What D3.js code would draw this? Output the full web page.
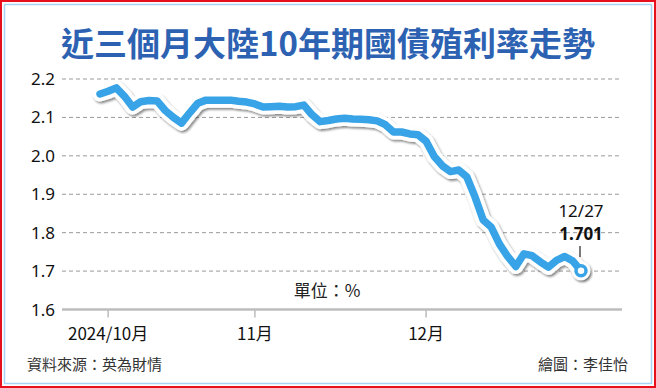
<!DOCTYPE html>
<html>
<head>
<meta charset="utf-8">
<script src="https://cdn.jsdelivr.net/npm/d3@7"></script>
<style>
  body { margin: 0; background: #fff; }
  svg text { font-family: "Noto Sans", "Noto Sans CJK TC", sans-serif; }
  .cjk { font-family: "Noto Sans CJK TC", "Noto Sans", sans-serif; }
</style>
</head>
<body>
<div id="chart"></div>
<script>
// trading days shown on the x axis
const dates = [
  "09/30",
  "10/08", "10/09", "10/10", "10/11", "10/14", "10/15", "10/16", "10/17", "10/18",
  "10/21", "10/22", "10/23", "10/24", "10/25", "10/28", "10/29", "10/30", "10/31",
  "11/01", "11/04", "11/05", "11/06", "11/07", "11/08", "11/11", "11/12", "11/13",
  "11/14", "11/15", "11/18", "11/19", "11/20", "11/21", "11/22", "11/25", "11/26",
  "11/27", "11/28", "11/29",
  "12/02", "12/03", "12/04", "12/05", "12/06", "12/09", "12/10", "12/11", "12/12",
  "12/13", "12/16", "12/17", "12/18", "12/19", "12/20", "12/23", "12/24", "12/25",
  "12/26", "12/27"
];

// 10-year yield, %
const yields = [
  2.161,
  2.168, 2.177, 2.155, 2.127, 2.141, 2.144, 2.143, 2.118, 2.100,
  2.085, 2.112, 2.137, 2.145, 2.145, 2.145, 2.145, 2.142, 2.140,
  2.135, 2.127, 2.128, 2.129, 2.127, 2.128, 2.132, 2.107, 2.089,
  2.092, 2.096, 2.098, 2.096, 2.095, 2.094, 2.091, 2.081, 2.062,
  2.062, 2.057, 2.055,
  2.038, 1.998, 1.974, 1.959, 1.963, 1.945, 1.893, 1.833, 1.814,
  1.770, 1.738, 1.712, 1.745, 1.740, 1.724, 1.710, 1.728, 1.738,
  1.726, 1.701
];

const yTicks = [1.6, 1.7, 1.8, 1.9, 2.0, 2.1, 2.2];
const monthTicks = ["10/08", "11/01", "12/02"];
const monthLabels = ["2024/10月", "11月", "12月"];

const title = "近三個月大陸10年期國債殖利率走勢";
const unitText = "單位：%";
const sourceText = "資料來源：英為財情";
const creditText = "繪圖：李佳怡";

const W = 656, H = 388;

const svg = d3.select("#chart").append("svg")
  .attr("width", W)
  .attr("height", H);

// drop shadow for the line halo
const defs = svg.append("defs");
const filter = defs.append("filter")
  .attr("id", "shadow")
  .attr("x", "-10%").attr("y", "-10%")
  .attr("width", "120%").attr("height", "130%");
filter.append("feDropShadow")
  .attr("dx", 1.5).attr("dy", 2)
  .attr("stdDeviation", 1.3)
  .attr("flood-color", "#000")
  .attr("flood-opacity", 0.45);

// frame: red outer, light blue inner
svg.append("rect")
  .attr("x", 1).attr("y", 1)
  .attr("width", W - 2).attr("height", H - 2)
  .attr("fill", "none")
  .attr("stroke", "#e8101c")
  .attr("stroke-width", 2);
svg.append("rect")
  .attr("x", 4.5).attr("y", 4.5)
  .attr("width", W - 9).attr("height", H - 9)
  .attr("fill", "none")
  .attr("stroke", "#a9d3f2")
  .attr("stroke-width", 1.5);

// title
svg.append("text")
  .attr("class", "cjk")
  .attr("x", W / 2)
  .attr("y", 56)
  .attr("text-anchor", "middle")
  .attr("font-size", 33)
  .attr("font-weight", "bold")
  .attr("fill", "#2d62b2")
  .text(title);

// scales
const x = d3.scalePoint()
  .domain(dates)
  .range([100, 581]);

const y = d3.scaleLinear()
  .domain([1.6, 2.2])
  .range([309.5, 79]);

const plotLeft = 62, plotRight = 622;

// dashed grid lines
svg.append("g")
  .selectAll("line")
  .data(yTicks.filter(d => d > 1.6))
  .join("line")
  .attr("x1", plotLeft).attr("x2", plotRight)
  .attr("y1", d => y(d)).attr("y2", d => y(d))
  .attr("stroke", "#9a9a9a")
  .attr("stroke-width", 1)
  .attr("stroke-dasharray", "4,3");

// y labels
svg.append("g")
  .selectAll("text")
  .data(yTicks)
  .join("text")
  .attr("x", 55)
  .attr("y", d => y(d) + 6)
  .attr("text-anchor", "end")
  .attr("font-size", 17)
  .attr("fill", "#111")
  .text(d => d.toFixed(1));

// baseline and month ticks
svg.append("line")
  .attr("x1", plotLeft).attr("x2", plotRight)
  .attr("y1", y(1.6)).attr("y2", y(1.6))
  .attr("stroke", "#bdbdbd")
  .attr("stroke-width", 2.5);

svg.append("g")
  .selectAll("line")
  .data(monthTicks)
  .join("line")
  .attr("x1", d => x(d)).attr("x2", d => x(d))
  .attr("y1", y(1.6)).attr("y2", y(1.6) + 8)
  .attr("stroke", "#bdbdbd")
  .attr("stroke-width", 1.5);

svg.append("g")
  .selectAll("text")
  .data(monthTicks)
  .join("text")
  .attr("class", "cjk")
  .attr("x", d => x(d))
  .attr("y", 340)
  .attr("text-anchor", "middle")
  .attr("font-size", 17)
  .attr("fill", "#111")
  .text((d, i) => monthLabels[i]);

// unit label
svg.append("text")
  .attr("class", "cjk")
  .attr("x", 327)
  .attr("y", 297)
  .attr("text-anchor", "middle")
  .attr("font-size", 17)
  .attr("fill", "#222")
  .text(unitText);

// the line: white halo with shadow, then blue stroke
const line = d3.line()
  .x((d, i) => x(dates[i]))
  .y(d => y(d));

const series = svg.append("g");
series.append("path")
  .datum(yields)
  .attr("d", line)
  .attr("fill", "none")
  .attr("stroke", "#fff")
  .attr("stroke-width", 15)
  .attr("stroke-linejoin", "round")
  .attr("stroke-linecap", "round")
  .attr("filter", "url(#shadow)");

const lastDate = dates[dates.length - 1];
const lastVal = yields[yields.length - 1];

series.append("circle")
  .attr("cx", x(lastDate)).attr("cy", y(lastVal))
  .attr("r", 9.5)
  .attr("fill", "#fff")
  .attr("filter", "url(#shadow)");

series.append("path")
  .datum(yields)
  .attr("d", line)
  .attr("fill", "none")
  .attr("stroke", "#38a3e6")
  .attr("stroke-width", 7.5)
  .attr("stroke-linejoin", "round")
  .attr("stroke-linecap", "round");

series.append("circle")
  .attr("cx", x(lastDate)).attr("cy", y(lastVal))
  .attr("r", 5)
  .attr("fill", "#fff")
  .attr("stroke", "#38a3e6")
  .attr("stroke-width", 3.5);

// end annotation
svg.append("line")
  .attr("x1", x(lastDate) - 1).attr("x2", x(lastDate) - 1)
  .attr("y1", 246).attr("y2", 257)
  .attr("stroke", "#222")
  .attr("stroke-width", 1.2);

svg.append("text")
  .attr("x", x(lastDate))
  .attr("y", 217)
  .attr("text-anchor", "middle")
  .attr("font-size", 17)
  .attr("fill", "#111")
  .text(lastDate.replace(/^(\d+)\/(\d+)$/, (m, a, b) => (+a) + "/" + (+b)));

svg.append("text")
  .attr("x", x(lastDate))
  .attr("y", 240)
  .attr("text-anchor", "middle")
  .attr("font-size", 17)
  .attr("font-weight", "bold")
  .attr("fill", "#111")
  .text(lastVal.toFixed(3));

// footer
svg.append("text")
  .attr("class", "cjk")
  .attr("x", 27)
  .attr("y", 370)
  .attr("font-size", 15)
  .attr("fill", "#333")
  .text(sourceText);

svg.append("text")
  .attr("class", "cjk")
  .attr("x", 628)
  .attr("y", 370)
  .attr("text-anchor", "end")
  .attr("font-size", 15)
  .attr("fill", "#333")
  .text(creditText);
</script>
</body>
</html>
